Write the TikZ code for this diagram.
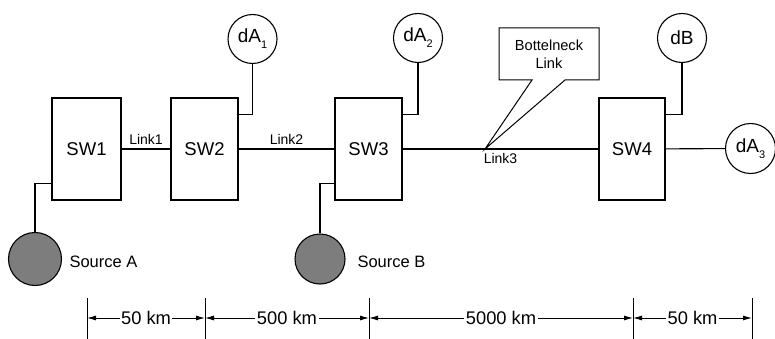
\documentclass[tikz,border=0pt]{standalone}
\usepackage{fontspec}
\setmainfont{Liberation Sans}
\usetikzlibrary{arrows.meta}
\definecolor{srcgray}{RGB}{125,125,125}
\newcommand{\mysub}[1]{\raisebox{-0.32em}{\fontsize{11}{12}\selectfont #1}}
\begin{document}
\begin{tikzpicture}[x=1pt,y=-1pt, line width=1.1pt,
  swbox/.style={draw, rectangle, minimum height=102pt, inner sep=0pt, font=\fontsize{18.5}{20}\selectfont},
  dest/.style={draw, circle, minimum size=49pt, inner sep=0pt, font=\fontsize{19}{20}\selectfont},
  src/.style={draw, circle, fill=srcgray, inner sep=0pt},
  lbl/.style={font=\fontsize{14}{16}\selectfont, inner sep=1pt},
  srclbl/.style={font=\fontsize{16.5}{18}\selectfont, anchor=west, inner sep=0pt},
  dimline/.style={line width=1pt, {Latex[length=9pt,width=5pt]}-{Latex[length=9pt,width=5pt]}},
  dimlbl/.style={fill=white, inner sep=1.5pt, font=\fontsize{18.3}{20}\selectfont},
  tick/.style={line width=1pt},
]
\useasboundingbox[fill=white] (0,0) rectangle (775,339);

% switches
\node[swbox, minimum width=69pt] (sw1) at (86.5,149) {SW1};
\node[swbox, minimum width=67pt] (sw2) at (204.5,149) {SW2};
\node[swbox, minimum width=67pt] (sw3) at (368.5,149) {SW3};
\node[swbox, minimum width=66pt] (sw4) at (632,149) {SW4};

% destinations
\node[dest] (da1) at (252.5,39) {dA\mysub{1}};
\node[dest] (da2) at (418,38) {dA\mysub{2}};
\node[dest] (db) at (682,38) {dB};
\node[dest, minimum size=50pt] (da3) at (750.5,148.5) {dA\mysub{3}};

% sources
\node[src, minimum size=53pt] (srca) at (35,259) {};
\node[src, minimum size=50pt] (srcb) at (320,259) {};
\node[srclbl] (srcalbl) at (69,262) {Source A};
\node[srclbl] (srcblbl) at (357,262) {Source B};

% links
\draw (sw1) -- node[lbl, above=3pt] {Link1} (sw2);
\draw (sw2) -- node[lbl, above=3pt] {Link2} (sw3);
\draw (sw3) -- node[lbl, below=3pt] {Link3} (sw4);
\draw (sw4) -- (da3);

% destination connectors
\draw (da1.south) |- ([yshift=-17pt]sw2.north east);
\draw (da2.south) |- ([yshift=-17pt]sw3.north east);
\draw (db.south) |- ([yshift=-17pt]sw4.north east);

% source connectors
\draw (srca.north) |- ([yshift=17pt]sw1.south west);
\draw (srcb.north) |- ([yshift=17pt]sw3.south west);

% bottleneck callout
\coordinate (tip) at (485,149);
\draw[line width=1pt, line join=miter] (499,28) -- (599,28) -- (599,80) -- (565,80) -- (tip) -- (532,80) -- (499,80) -- cycle;
\node[align=center, font=\fontsize{14.6}{18}\selectfont, inner sep=0pt] (bn) at (549,54) {Bottelneck\\Link};

% dimension lines
\foreach \x/\n in {87/t1,205/t2,369/t3,633/t4,752/t5} {
  \coordinate (\n) at (\x,318);
  \draw[tick] (\x,298) -- (\x,339);
}
\draw[dimline] (t1) -- node[dimlbl] {50 km} (t2);
\draw[dimline] (t2) -- node[dimlbl] {500 km} (t3);
\draw[dimline] (t3) -- node[dimlbl] {5000 km} (t4);
\draw[dimline] (t4) -- node[dimlbl] {50 km} (t5);
\end{tikzpicture}
\end{document}
